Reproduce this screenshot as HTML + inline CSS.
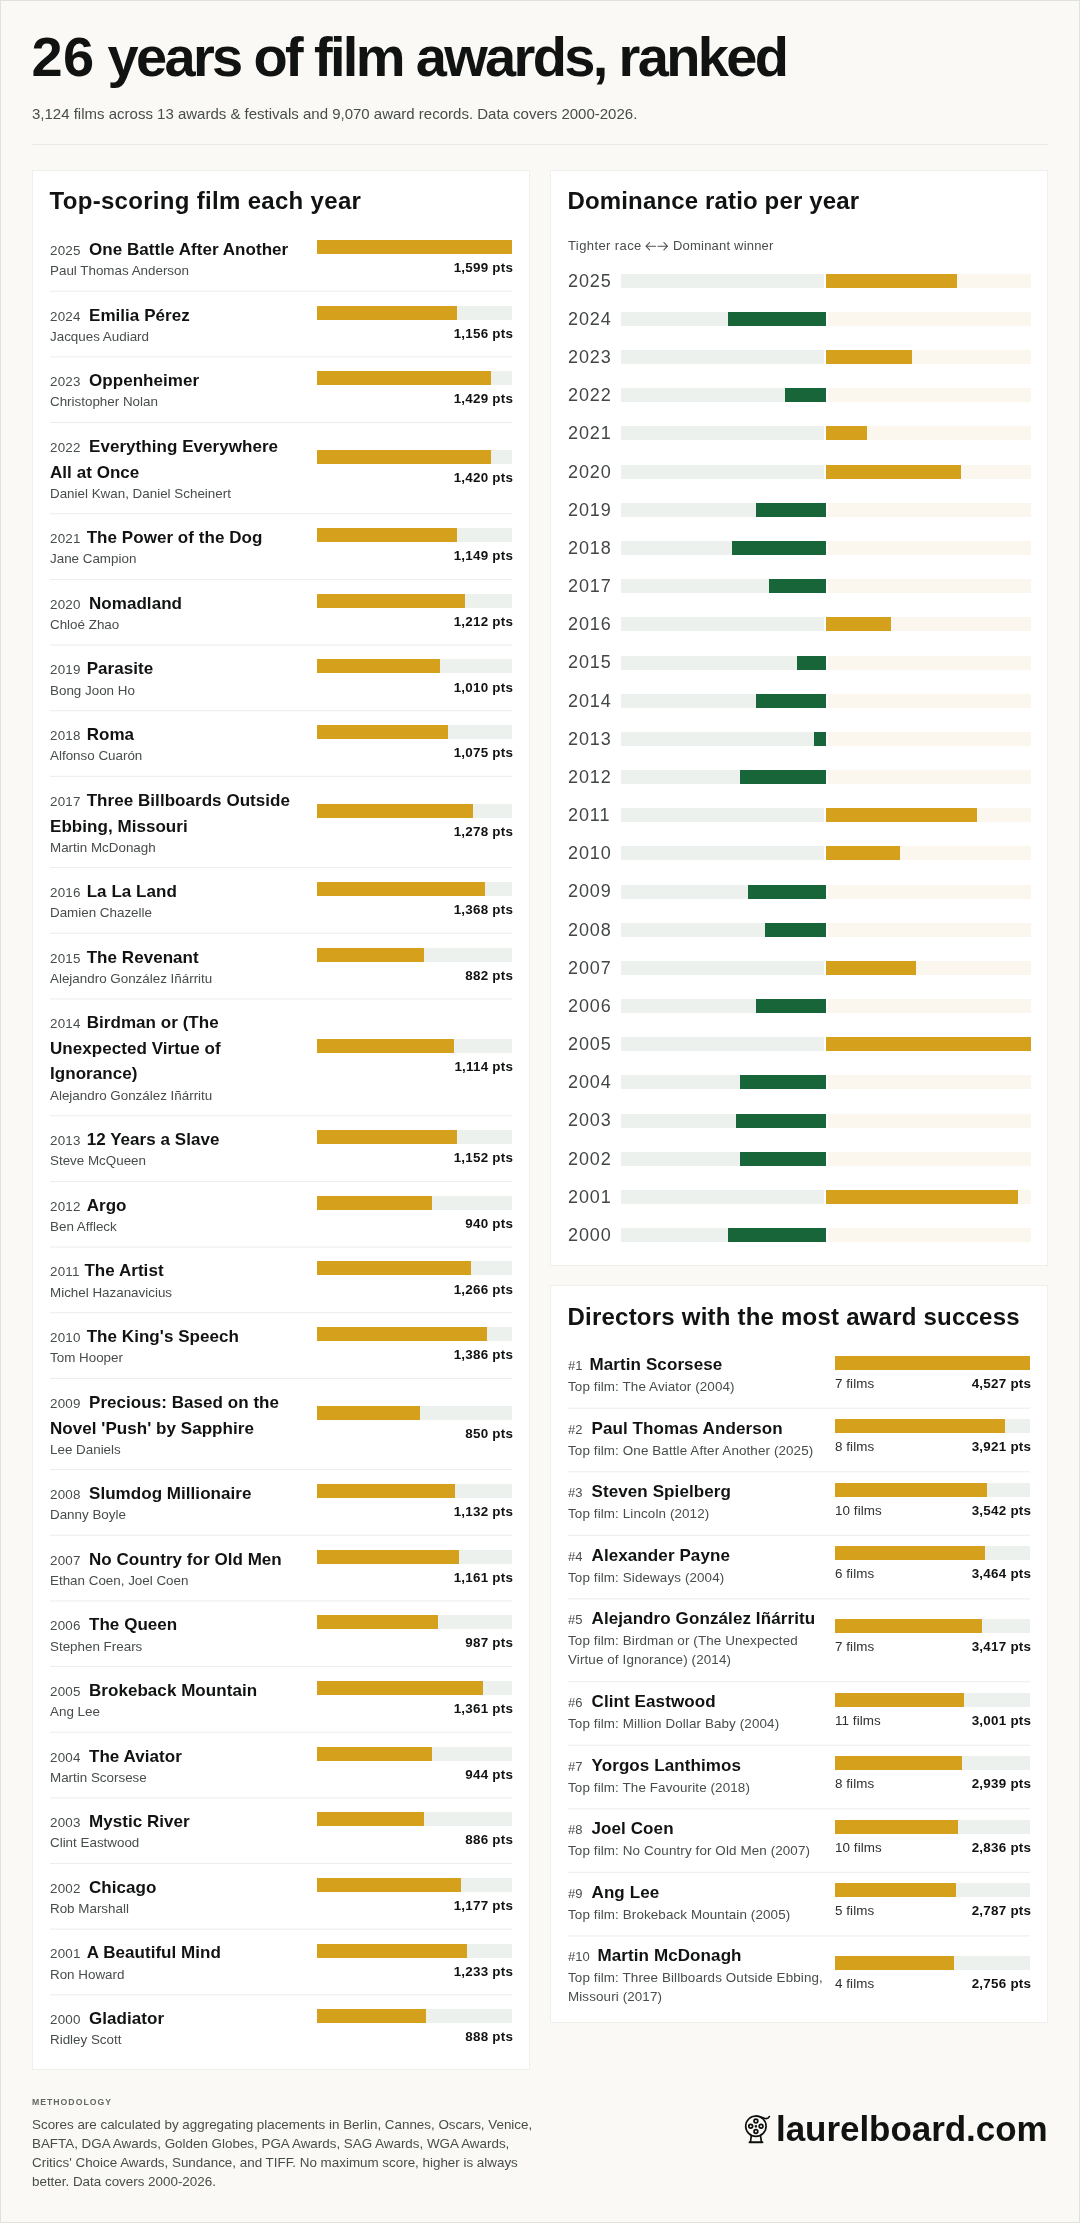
<!DOCTYPE html>
<html><head><meta charset="utf-8"><title>26 years of film awards, ranked</title>
<style>
*{margin:0;padding:0;box-sizing:border-box}
html,body{width:1080px;height:2223px;overflow:hidden}
body{background:#faf9f5;position:relative;font-family:"Liberation Sans",sans-serif;color:#101311}
.frame{position:absolute;left:0;top:0;width:1080px;height:2223px;border:1px solid #e1e2dd}
.t{position:absolute;white-space:nowrap}
#wrap{position:absolute;left:0;top:0;width:1080px;height:2223px;will-change:transform}
.r{position:absolute}
.card{position:absolute;background:#ffffff;border:1px solid #efefec;box-sizing:content-box}
.yr{display:inline-block;line-height:10px;font-size:13.4px;font-weight:400;color:#474d4a;letter-spacing:0.2px}
.rk{display:inline-block;line-height:10px;font-size:13px;font-weight:400;color:#474d4a;letter-spacing:0}
.ic{position:absolute}
</style></head>
<body>
<div id="wrap">
<div class="frame"></div>
<div class="t" style="left:31.50px;top:23.00px;font-size:56px;line-height:67.2px;font-weight:700;color:#101311;letter-spacing:-2.66px;"><span style="letter-spacing:0.4px">26</span> years of film awards, ranked</div>
<div class="t" style="left:32.00px;top:105.00px;font-size:15px;line-height:18.0px;color:#474d4a;">3,124 films across 13 awards &amp; festivals and 9,070 award records. Data covers 2000-2026.</div>
<div class="r" style="left:32.00px;top:144.00px;width:1016.00px;height:1.00px;background:#e9e9e5;"></div>
<div class="card" style="left:32px;top:170px;width:496px;height:1898px"></div>
<div class="card" style="left:550px;top:170px;width:496px;height:1094px"></div>
<div class="card" style="left:550px;top:1285px;width:496px;height:736px"></div>
<div class="t" style="left:49.50px;top:187.00px;font-size:24px;line-height:28.799999999999997px;font-weight:700;color:#101311;letter-spacing:0.31px;">Top-scoring film each year</div>
<div class="t ft" style="left:50.00px;top:237.00px;font-size:17px;line-height:25.6px;font-weight:700;color:#101311;letter-spacing:0.05px;"><span class="yr" style="width:39.0px">2025</span>One Battle After Another</div>
<div class="t" style="left:50.00px;top:263.00px;font-size:13.4px;line-height:16.08px;color:#474d4a;">Paul Thomas Anderson</div>
<div class="r" style="left:316.70px;top:239.95px;width:195.50px;height:14.00px;background:#edf1ee;"></div>
<div class="r" style="left:316.70px;top:239.95px;width:195.50px;height:14.00px;background:#d5a11d;"></div>
<div class="t" style="right:566.80px;text-align:right;top:260.00px;font-size:13.4px;line-height:16.08px;font-weight:700;color:#101311;letter-spacing:0.25px;width:300px;">1,599 pts</div>
<div class="r" style="left:50.00px;top:290.00px;width:462.00px;height:1.00px;background:#f9f9f9;"></div>
<div class="r" style="left:50.00px;top:291.00px;width:462.00px;height:1.00px;background:#f2f2f0;"></div>
<div class="t ft" style="left:50.00px;top:303.00px;font-size:17px;line-height:25.6px;font-weight:700;color:#101311;letter-spacing:0.05px;"><span class="yr" style="width:39.0px">2024</span>Emilia Pérez</div>
<div class="t" style="left:50.00px;top:329.00px;font-size:13.4px;line-height:16.08px;color:#474d4a;">Jacques Audiard</div>
<div class="r" style="left:316.70px;top:305.60px;width:195.50px;height:14.00px;background:#edf1ee;"></div>
<div class="r" style="left:316.70px;top:305.60px;width:140.76px;height:14.00px;background:#d5a11d;"></div>
<div class="t" style="right:566.80px;text-align:right;top:326.00px;font-size:13.4px;line-height:16.08px;font-weight:700;color:#101311;letter-spacing:0.25px;width:300px;">1,156 pts</div>
<div class="r" style="left:50.00px;top:356.00px;width:462.00px;height:1.00px;background:#f3f3f1;"></div>
<div class="r" style="left:50.00px;top:357.00px;width:462.00px;height:1.00px;background:#f8f8f8;"></div>
<div class="t ft" style="left:50.00px;top:368.00px;font-size:17px;line-height:25.6px;font-weight:700;color:#101311;letter-spacing:0.05px;"><span class="yr" style="width:39.0px">2023</span>Oppenheimer</div>
<div class="t" style="left:50.00px;top:394.00px;font-size:13.4px;line-height:16.08px;color:#474d4a;">Christopher Nolan</div>
<div class="r" style="left:316.70px;top:371.25px;width:195.50px;height:14.00px;background:#edf1ee;"></div>
<div class="r" style="left:316.70px;top:371.25px;width:174.00px;height:14.00px;background:#d5a11d;"></div>
<div class="t" style="right:566.80px;text-align:right;top:391.00px;font-size:13.4px;line-height:16.08px;font-weight:700;color:#101311;letter-spacing:0.25px;width:300px;">1,429 pts</div>
<div class="r" style="left:50.00px;top:422.00px;width:462.00px;height:1.00px;background:#ececea;"></div>
<div class="t ft" style="left:50.00px;top:434.00px;font-size:17px;line-height:25.6px;font-weight:700;color:#101311;letter-spacing:0.05px;"><span class="yr" style="width:39.0px">2022</span>Everything Everywhere<br>All at Once</div>
<div class="t" style="left:50.00px;top:486.00px;font-size:13.4px;line-height:16.08px;color:#474d4a;">Daniel Kwan, Daniel Scheinert</div>
<div class="r" style="left:316.70px;top:449.70px;width:195.50px;height:14.00px;background:#edf1ee;"></div>
<div class="r" style="left:316.70px;top:449.70px;width:174.00px;height:14.00px;background:#d5a11d;"></div>
<div class="t" style="right:566.80px;text-align:right;top:470.00px;font-size:13.4px;line-height:16.08px;font-weight:700;color:#101311;letter-spacing:0.25px;width:300px;">1,420 pts</div>
<div class="r" style="left:50.00px;top:513.00px;width:462.00px;height:1.00px;background:#f1f1ef;"></div>
<div class="r" style="left:50.00px;top:514.00px;width:462.00px;height:1.00px;background:#fafafa;"></div>
<div class="t ft" style="left:50.00px;top:525.00px;font-size:17px;line-height:25.6px;font-weight:700;color:#101311;letter-spacing:0.05px;"><span class="yr" style="width:36.7px">2021</span>The Power of the Dog</div>
<div class="t" style="left:50.00px;top:551.00px;font-size:13.4px;line-height:16.08px;color:#474d4a;">Jane Campion</div>
<div class="r" style="left:316.70px;top:528.15px;width:195.50px;height:14.00px;background:#edf1ee;"></div>
<div class="r" style="left:316.70px;top:528.15px;width:140.76px;height:14.00px;background:#d5a11d;"></div>
<div class="t" style="right:566.80px;text-align:right;top:548.00px;font-size:13.4px;line-height:16.08px;font-weight:700;color:#101311;letter-spacing:0.25px;width:300px;">1,149 pts</div>
<div class="r" style="left:50.00px;top:579.00px;width:462.00px;height:1.00px;background:#eeeeec;"></div>
<div class="t ft" style="left:50.00px;top:591.00px;font-size:17px;line-height:25.6px;font-weight:700;color:#101311;letter-spacing:0.05px;"><span class="yr" style="width:39.0px">2020</span>Nomadland</div>
<div class="t" style="left:50.00px;top:617.00px;font-size:13.4px;line-height:16.08px;color:#474d4a;">Chloé Zhao</div>
<div class="r" style="left:316.70px;top:593.80px;width:195.50px;height:14.00px;background:#edf1ee;"></div>
<div class="r" style="left:316.70px;top:593.80px;width:148.58px;height:14.00px;background:#d5a11d;"></div>
<div class="t" style="right:566.80px;text-align:right;top:614.00px;font-size:13.4px;line-height:16.08px;font-weight:700;color:#101311;letter-spacing:0.25px;width:300px;">1,212 pts</div>
<div class="r" style="left:50.00px;top:644.00px;width:462.00px;height:1.00px;background:#f6f6f6;"></div>
<div class="r" style="left:50.00px;top:645.00px;width:462.00px;height:1.00px;background:#f5f5f3;"></div>
<div class="t ft" style="left:50.00px;top:656.00px;font-size:17px;line-height:25.6px;font-weight:700;color:#101311;letter-spacing:0.05px;"><span class="yr" style="width:36.7px">2019</span>Parasite</div>
<div class="t" style="left:50.00px;top:683.00px;font-size:13.4px;line-height:16.08px;color:#474d4a;">Bong Joon Ho</div>
<div class="r" style="left:316.70px;top:659.45px;width:195.50px;height:14.00px;background:#edf1ee;"></div>
<div class="r" style="left:316.70px;top:659.45px;width:123.17px;height:14.00px;background:#d5a11d;"></div>
<div class="t" style="right:566.80px;text-align:right;top:680.00px;font-size:13.4px;line-height:16.08px;font-weight:700;color:#101311;letter-spacing:0.25px;width:300px;">1,010 pts</div>
<div class="r" style="left:50.00px;top:710.00px;width:462.00px;height:1.00px;background:#f0f0ee;"></div>
<div class="r" style="left:50.00px;top:711.00px;width:462.00px;height:1.00px;background:#fbfbfb;"></div>
<div class="t ft" style="left:50.00px;top:722.00px;font-size:17px;line-height:25.6px;font-weight:700;color:#101311;letter-spacing:0.05px;"><span class="yr" style="width:36.7px">2018</span>Roma</div>
<div class="t" style="left:50.00px;top:748.00px;font-size:13.4px;line-height:16.08px;color:#474d4a;">Alfonso Cuarón</div>
<div class="r" style="left:316.70px;top:725.10px;width:195.50px;height:14.00px;background:#edf1ee;"></div>
<div class="r" style="left:316.70px;top:725.10px;width:130.99px;height:14.00px;background:#d5a11d;"></div>
<div class="t" style="right:566.80px;text-align:right;top:745.00px;font-size:13.4px;line-height:16.08px;font-weight:700;color:#101311;letter-spacing:0.25px;width:300px;">1,075 pts</div>
<div class="r" style="left:50.00px;top:775.00px;width:462.00px;height:1.00px;background:#fcfcfc;"></div>
<div class="r" style="left:50.00px;top:776.00px;width:462.00px;height:1.00px;background:#efefed;"></div>
<div class="t ft" style="left:50.00px;top:788.00px;font-size:17px;line-height:25.6px;font-weight:700;color:#101311;letter-spacing:0.05px;"><span class="yr" style="width:36.7px">2017</span>Three Billboards Outside<br>Ebbing, Missouri</div>
<div class="t" style="left:50.00px;top:840.00px;font-size:13.4px;line-height:16.08px;color:#474d4a;">Martin McDonagh</div>
<div class="r" style="left:316.70px;top:803.55px;width:195.50px;height:14.00px;background:#edf1ee;"></div>
<div class="r" style="left:316.70px;top:803.55px;width:156.40px;height:14.00px;background:#d5a11d;"></div>
<div class="t" style="right:566.80px;text-align:right;top:824.00px;font-size:13.4px;line-height:16.08px;font-weight:700;color:#101311;letter-spacing:0.25px;width:300px;">1,278 pts</div>
<div class="r" style="left:50.00px;top:867.00px;width:462.00px;height:1.00px;background:#eeeeec;"></div>
<div class="t ft" style="left:50.00px;top:879.00px;font-size:17px;line-height:25.6px;font-weight:700;color:#101311;letter-spacing:0.05px;"><span class="yr" style="width:36.7px">2016</span>La La Land</div>
<div class="t" style="left:50.00px;top:905.00px;font-size:13.4px;line-height:16.08px;color:#474d4a;">Damien Chazelle</div>
<div class="r" style="left:316.70px;top:882.00px;width:195.50px;height:14.00px;background:#edf1ee;"></div>
<div class="r" style="left:316.70px;top:882.00px;width:168.13px;height:14.00px;background:#d5a11d;"></div>
<div class="t" style="right:566.80px;text-align:right;top:902.00px;font-size:13.4px;line-height:16.08px;font-weight:700;color:#101311;letter-spacing:0.25px;width:300px;">1,368 pts</div>
<div class="r" style="left:50.00px;top:932.00px;width:462.00px;height:1.00px;background:#fafafa;"></div>
<div class="r" style="left:50.00px;top:933.00px;width:462.00px;height:1.00px;background:#f1f1ef;"></div>
<div class="t ft" style="left:50.00px;top:945.00px;font-size:17px;line-height:25.6px;font-weight:700;color:#101311;letter-spacing:0.05px;"><span class="yr" style="width:36.7px">2015</span>The Revenant</div>
<div class="t" style="left:50.00px;top:971.00px;font-size:13.4px;line-height:16.08px;color:#474d4a;">Alejandro González Iñárritu</div>
<div class="r" style="left:316.70px;top:947.65px;width:195.50px;height:14.00px;background:#edf1ee;"></div>
<div class="r" style="left:316.70px;top:947.65px;width:107.53px;height:14.00px;background:#d5a11d;"></div>
<div class="t" style="right:566.80px;text-align:right;top:968.00px;font-size:13.4px;line-height:16.08px;font-weight:700;color:#101311;letter-spacing:0.25px;width:300px;">882 pts</div>
<div class="r" style="left:50.00px;top:998.00px;width:462.00px;height:1.00px;background:#f4f4f2;"></div>
<div class="r" style="left:50.00px;top:999.00px;width:462.00px;height:1.00px;background:#f7f7f7;"></div>
<div class="t ft" style="left:50.00px;top:1010.00px;font-size:17px;line-height:25.6px;font-weight:700;color:#101311;letter-spacing:0.05px;"><span class="yr" style="width:36.7px">2014</span>Birdman or (The<br>Unexpected Virtue of<br>Ignorance)</div>
<div class="t" style="left:50.00px;top:1088.00px;font-size:13.4px;line-height:16.08px;color:#474d4a;">Alejandro González Iñárritu</div>
<div class="r" style="left:316.70px;top:1038.90px;width:195.50px;height:14.00px;background:#edf1ee;"></div>
<div class="r" style="left:316.70px;top:1038.90px;width:136.85px;height:14.00px;background:#d5a11d;"></div>
<div class="t" style="right:566.80px;text-align:right;top:1059.00px;font-size:13.4px;line-height:16.08px;font-weight:700;color:#101311;letter-spacing:0.25px;width:300px;">1,114 pts</div>
<div class="r" style="left:50.00px;top:1115.00px;width:462.00px;height:1.00px;background:#f1f1ef;"></div>
<div class="r" style="left:50.00px;top:1116.00px;width:462.00px;height:1.00px;background:#fafafa;"></div>
<div class="t ft" style="left:50.00px;top:1127.00px;font-size:17px;line-height:25.6px;font-weight:700;color:#101311;letter-spacing:0.05px;"><span class="yr" style="width:36.7px">2013</span>12 Years a Slave</div>
<div class="t" style="left:50.00px;top:1153.00px;font-size:13.4px;line-height:16.08px;color:#474d4a;">Steve McQueen</div>
<div class="r" style="left:316.70px;top:1130.15px;width:195.50px;height:14.00px;background:#edf1ee;"></div>
<div class="r" style="left:316.70px;top:1130.15px;width:140.76px;height:14.00px;background:#d5a11d;"></div>
<div class="t" style="right:566.80px;text-align:right;top:1150.00px;font-size:13.4px;line-height:16.08px;font-weight:700;color:#101311;letter-spacing:0.25px;width:300px;">1,152 pts</div>
<div class="r" style="left:50.00px;top:1181.00px;width:462.00px;height:1.00px;background:#eeeeec;"></div>
<div class="t ft" style="left:50.00px;top:1193.00px;font-size:17px;line-height:25.6px;font-weight:700;color:#101311;letter-spacing:0.05px;"><span class="yr" style="width:36.7px">2012</span>Argo</div>
<div class="t" style="left:50.00px;top:1219.00px;font-size:13.4px;line-height:16.08px;color:#474d4a;">Ben Affleck</div>
<div class="r" style="left:316.70px;top:1195.80px;width:195.50px;height:14.00px;background:#edf1ee;"></div>
<div class="r" style="left:316.70px;top:1195.80px;width:115.34px;height:14.00px;background:#d5a11d;"></div>
<div class="t" style="right:566.80px;text-align:right;top:1216.00px;font-size:13.4px;line-height:16.08px;font-weight:700;color:#101311;letter-spacing:0.25px;width:300px;">940 pts</div>
<div class="r" style="left:50.00px;top:1246.00px;width:462.00px;height:1.00px;background:#f6f6f6;"></div>
<div class="r" style="left:50.00px;top:1247.00px;width:462.00px;height:1.00px;background:#f5f5f3;"></div>
<div class="t ft" style="left:50.00px;top:1258.00px;font-size:17px;line-height:25.6px;font-weight:700;color:#101311;letter-spacing:0.05px;"><span class="yr" style="width:34.4px">2011</span>The Artist</div>
<div class="t" style="left:50.00px;top:1285.00px;font-size:13.4px;line-height:16.08px;color:#474d4a;">Michel Hazanavicius</div>
<div class="r" style="left:316.70px;top:1261.45px;width:195.50px;height:14.00px;background:#edf1ee;"></div>
<div class="r" style="left:316.70px;top:1261.45px;width:154.44px;height:14.00px;background:#d5a11d;"></div>
<div class="t" style="right:566.80px;text-align:right;top:1282.00px;font-size:13.4px;line-height:16.08px;font-weight:700;color:#101311;letter-spacing:0.25px;width:300px;">1,266 pts</div>
<div class="r" style="left:50.00px;top:1312.00px;width:462.00px;height:1.00px;background:#f0f0ee;"></div>
<div class="r" style="left:50.00px;top:1313.00px;width:462.00px;height:1.00px;background:#fbfbfb;"></div>
<div class="t ft" style="left:50.00px;top:1324.00px;font-size:17px;line-height:25.6px;font-weight:700;color:#101311;letter-spacing:0.05px;"><span class="yr" style="width:36.7px">2010</span>The King's Speech</div>
<div class="t" style="left:50.00px;top:1350.00px;font-size:13.4px;line-height:16.08px;color:#474d4a;">Tom Hooper</div>
<div class="r" style="left:316.70px;top:1327.10px;width:195.50px;height:14.00px;background:#edf1ee;"></div>
<div class="r" style="left:316.70px;top:1327.10px;width:170.09px;height:14.00px;background:#d5a11d;"></div>
<div class="t" style="right:566.80px;text-align:right;top:1347.00px;font-size:13.4px;line-height:16.08px;font-weight:700;color:#101311;letter-spacing:0.25px;width:300px;">1,386 pts</div>
<div class="r" style="left:50.00px;top:1377.00px;width:462.00px;height:1.00px;background:#fcfcfc;"></div>
<div class="r" style="left:50.00px;top:1378.00px;width:462.00px;height:1.00px;background:#efefed;"></div>
<div class="t ft" style="left:50.00px;top:1390.00px;font-size:17px;line-height:25.6px;font-weight:700;color:#101311;letter-spacing:0.05px;"><span class="yr" style="width:39.0px">2009</span>Precious: Based on the<br>Novel 'Push' by Sapphire</div>
<div class="t" style="left:50.00px;top:1442.00px;font-size:13.4px;line-height:16.08px;color:#474d4a;">Lee Daniels</div>
<div class="r" style="left:316.70px;top:1405.55px;width:195.50px;height:14.00px;background:#edf1ee;"></div>
<div class="r" style="left:316.70px;top:1405.55px;width:103.61px;height:14.00px;background:#d5a11d;"></div>
<div class="t" style="right:566.80px;text-align:right;top:1426.00px;font-size:13.4px;line-height:16.08px;font-weight:700;color:#101311;letter-spacing:0.25px;width:300px;">850 pts</div>
<div class="r" style="left:50.00px;top:1469.00px;width:462.00px;height:1.00px;background:#eeeeec;"></div>
<div class="t ft" style="left:50.00px;top:1481.00px;font-size:17px;line-height:25.6px;font-weight:700;color:#101311;letter-spacing:0.05px;"><span class="yr" style="width:39.0px">2008</span>Slumdog Millionaire</div>
<div class="t" style="left:50.00px;top:1507.00px;font-size:13.4px;line-height:16.08px;color:#474d4a;">Danny Boyle</div>
<div class="r" style="left:316.70px;top:1484.00px;width:195.50px;height:14.00px;background:#edf1ee;"></div>
<div class="r" style="left:316.70px;top:1484.00px;width:138.81px;height:14.00px;background:#d5a11d;"></div>
<div class="t" style="right:566.80px;text-align:right;top:1504.00px;font-size:13.4px;line-height:16.08px;font-weight:700;color:#101311;letter-spacing:0.25px;width:300px;">1,132 pts</div>
<div class="r" style="left:50.00px;top:1534.00px;width:462.00px;height:1.00px;background:#fafafa;"></div>
<div class="r" style="left:50.00px;top:1535.00px;width:462.00px;height:1.00px;background:#f1f1ef;"></div>
<div class="t ft" style="left:50.00px;top:1547.00px;font-size:17px;line-height:25.6px;font-weight:700;color:#101311;letter-spacing:0.05px;"><span class="yr" style="width:39.0px">2007</span>No Country for Old Men</div>
<div class="t" style="left:50.00px;top:1573.00px;font-size:13.4px;line-height:16.08px;color:#474d4a;">Ethan Coen, Joel Coen</div>
<div class="r" style="left:316.70px;top:1549.65px;width:195.50px;height:14.00px;background:#edf1ee;"></div>
<div class="r" style="left:316.70px;top:1549.65px;width:142.72px;height:14.00px;background:#d5a11d;"></div>
<div class="t" style="right:566.80px;text-align:right;top:1570.00px;font-size:13.4px;line-height:16.08px;font-weight:700;color:#101311;letter-spacing:0.25px;width:300px;">1,161 pts</div>
<div class="r" style="left:50.00px;top:1600.00px;width:462.00px;height:1.00px;background:#f4f4f2;"></div>
<div class="r" style="left:50.00px;top:1601.00px;width:462.00px;height:1.00px;background:#f7f7f7;"></div>
<div class="t ft" style="left:50.00px;top:1612.00px;font-size:17px;line-height:25.6px;font-weight:700;color:#101311;letter-spacing:0.05px;"><span class="yr" style="width:39.0px">2006</span>The Queen</div>
<div class="t" style="left:50.00px;top:1639.00px;font-size:13.4px;line-height:16.08px;color:#474d4a;">Stephen Frears</div>
<div class="r" style="left:316.70px;top:1615.30px;width:195.50px;height:14.00px;background:#edf1ee;"></div>
<div class="r" style="left:316.70px;top:1615.30px;width:121.21px;height:14.00px;background:#d5a11d;"></div>
<div class="t" style="right:566.80px;text-align:right;top:1635.00px;font-size:13.4px;line-height:16.08px;font-weight:700;color:#101311;letter-spacing:0.25px;width:300px;">987 pts</div>
<div class="r" style="left:50.00px;top:1666.00px;width:462.00px;height:1.00px;background:#ededeb;"></div>
<div class="t ft" style="left:50.00px;top:1678.00px;font-size:17px;line-height:25.6px;font-weight:700;color:#101311;letter-spacing:0.05px;"><span class="yr" style="width:39.0px">2005</span>Brokeback Mountain</div>
<div class="t" style="left:50.00px;top:1704.00px;font-size:13.4px;line-height:16.08px;color:#474d4a;">Ang Lee</div>
<div class="r" style="left:316.70px;top:1680.95px;width:195.50px;height:14.00px;background:#edf1ee;"></div>
<div class="r" style="left:316.70px;top:1680.95px;width:166.18px;height:14.00px;background:#d5a11d;"></div>
<div class="t" style="right:566.80px;text-align:right;top:1701.00px;font-size:13.4px;line-height:16.08px;font-weight:700;color:#101311;letter-spacing:0.25px;width:300px;">1,361 pts</div>
<div class="r" style="left:50.00px;top:1731.00px;width:462.00px;height:1.00px;background:#f9f9f9;"></div>
<div class="r" style="left:50.00px;top:1732.00px;width:462.00px;height:1.00px;background:#f2f2f0;"></div>
<div class="t ft" style="left:50.00px;top:1744.00px;font-size:17px;line-height:25.6px;font-weight:700;color:#101311;letter-spacing:0.05px;"><span class="yr" style="width:39.0px">2004</span>The Aviator</div>
<div class="t" style="left:50.00px;top:1770.00px;font-size:13.4px;line-height:16.08px;color:#474d4a;">Martin Scorsese</div>
<div class="r" style="left:316.70px;top:1746.60px;width:195.50px;height:14.00px;background:#edf1ee;"></div>
<div class="r" style="left:316.70px;top:1746.60px;width:115.34px;height:14.00px;background:#d5a11d;"></div>
<div class="t" style="right:566.80px;text-align:right;top:1767.00px;font-size:13.4px;line-height:16.08px;font-weight:700;color:#101311;letter-spacing:0.25px;width:300px;">944 pts</div>
<div class="r" style="left:50.00px;top:1797.00px;width:462.00px;height:1.00px;background:#f3f3f1;"></div>
<div class="r" style="left:50.00px;top:1798.00px;width:462.00px;height:1.00px;background:#f8f8f8;"></div>
<div class="t ft" style="left:50.00px;top:1809.00px;font-size:17px;line-height:25.6px;font-weight:700;color:#101311;letter-spacing:0.05px;"><span class="yr" style="width:39.0px">2003</span>Mystic River</div>
<div class="t" style="left:50.00px;top:1835.00px;font-size:13.4px;line-height:16.08px;color:#474d4a;">Clint Eastwood</div>
<div class="r" style="left:316.70px;top:1812.25px;width:195.50px;height:14.00px;background:#edf1ee;"></div>
<div class="r" style="left:316.70px;top:1812.25px;width:107.53px;height:14.00px;background:#d5a11d;"></div>
<div class="t" style="right:566.80px;text-align:right;top:1832.00px;font-size:13.4px;line-height:16.08px;font-weight:700;color:#101311;letter-spacing:0.25px;width:300px;">886 pts</div>
<div class="r" style="left:50.00px;top:1863.00px;width:462.00px;height:1.00px;background:#ececea;"></div>
<div class="t ft" style="left:50.00px;top:1875.00px;font-size:17px;line-height:25.6px;font-weight:700;color:#101311;letter-spacing:0.05px;"><span class="yr" style="width:39.0px">2002</span>Chicago</div>
<div class="t" style="left:50.00px;top:1901.00px;font-size:13.4px;line-height:16.08px;color:#474d4a;">Rob Marshall</div>
<div class="r" style="left:316.70px;top:1877.90px;width:195.50px;height:14.00px;background:#edf1ee;"></div>
<div class="r" style="left:316.70px;top:1877.90px;width:144.67px;height:14.00px;background:#d5a11d;"></div>
<div class="t" style="right:566.80px;text-align:right;top:1898.00px;font-size:13.4px;line-height:16.08px;font-weight:700;color:#101311;letter-spacing:0.25px;width:300px;">1,177 pts</div>
<div class="r" style="left:50.00px;top:1928.00px;width:462.00px;height:1.00px;background:#f8f8f8;"></div>
<div class="r" style="left:50.00px;top:1929.00px;width:462.00px;height:1.00px;background:#f3f3f1;"></div>
<div class="t ft" style="left:50.00px;top:1940.00px;font-size:17px;line-height:25.6px;font-weight:700;color:#101311;letter-spacing:0.05px;"><span class="yr" style="width:36.7px">2001</span>A Beautiful Mind</div>
<div class="t" style="left:50.00px;top:1967.00px;font-size:13.4px;line-height:16.08px;color:#474d4a;">Ron Howard</div>
<div class="r" style="left:316.70px;top:1943.55px;width:195.50px;height:14.00px;background:#edf1ee;"></div>
<div class="r" style="left:316.70px;top:1943.55px;width:150.53px;height:14.00px;background:#d5a11d;"></div>
<div class="t" style="right:566.80px;text-align:right;top:1964.00px;font-size:13.4px;line-height:16.08px;font-weight:700;color:#101311;letter-spacing:0.25px;width:300px;">1,233 pts</div>
<div class="r" style="left:50.00px;top:1994.00px;width:462.00px;height:1.00px;background:#f2f2f0;"></div>
<div class="r" style="left:50.00px;top:1995.00px;width:462.00px;height:1.00px;background:#f9f9f9;"></div>
<div class="t ft" style="left:50.00px;top:2006.00px;font-size:17px;line-height:25.6px;font-weight:700;color:#101311;letter-spacing:0.05px;"><span class="yr" style="width:39.0px">2000</span>Gladiator</div>
<div class="t" style="left:50.00px;top:2032.00px;font-size:13.4px;line-height:16.08px;color:#474d4a;">Ridley Scott</div>
<div class="r" style="left:316.70px;top:2009.20px;width:195.50px;height:14.00px;background:#edf1ee;"></div>
<div class="r" style="left:316.70px;top:2009.20px;width:109.48px;height:14.00px;background:#d5a11d;"></div>
<div class="t" style="right:566.80px;text-align:right;top:2029.00px;font-size:13.4px;line-height:16.08px;font-weight:700;color:#101311;letter-spacing:0.25px;width:300px;">888 pts</div>
<div class="t" style="left:567.50px;top:187.00px;font-size:24px;line-height:28.799999999999997px;font-weight:700;color:#101311;letter-spacing:0.15px;">Dominance ratio per year</div>
<div class="t" style="left:568.00px;top:238.00px;font-size:13px;line-height:15.6px;color:#474d4a;letter-spacing:0.4px;">Tighter race</div>
<div class="t" style="left:673.00px;top:238.00px;font-size:13px;line-height:15.6px;color:#474d4a;letter-spacing:0.2px;">Dominant winner</div>
<svg class="ic" style="left:645px;top:240px" width="24" height="12" viewBox="0 0 24 12" fill="none" stroke="#4e5350" stroke-width="1.1" stroke-linecap="round" stroke-linejoin="round"><path d="M1 6.2 H10.5 M4.6 2.6 L1 6.2 L4.6 9.8 M13 6.2 H22.5 M18.9 2.6 L22.5 6.2 L18.9 9.8"/></svg>
<div class="t" style="left:568.00px;top:271.00px;font-size:18px;line-height:21.599999999999998px;color:#424744;letter-spacing:0.9px;">2025</div>
<div class="r" style="left:621.10px;top:273.80px;width:202.90px;height:14.00px;background:#edf1ee;"></div>
<div class="r" style="left:828.00px;top:273.80px;width:202.50px;height:14.00px;background:#fbf7ef;"></div>
<div class="r" style="left:826.00px;top:273.80px;width:130.86px;height:14.00px;background:#d5a11d;"></div>
<div class="t" style="left:568.00px;top:309.00px;font-size:18px;line-height:21.599999999999998px;color:#424744;letter-spacing:0.9px;">2024</div>
<div class="r" style="left:621.10px;top:311.97px;width:202.90px;height:14.00px;background:#edf1ee;"></div>
<div class="r" style="left:828.00px;top:311.97px;width:202.50px;height:14.00px;background:#fbf7ef;"></div>
<div class="r" style="left:727.77px;top:311.97px;width:98.23px;height:14.00px;background:#19653a;"></div>
<div class="t" style="left:568.00px;top:347.00px;font-size:18px;line-height:21.599999999999998px;color:#424744;letter-spacing:0.9px;">2023</div>
<div class="r" style="left:621.10px;top:350.14px;width:202.90px;height:14.00px;background:#edf1ee;"></div>
<div class="r" style="left:828.00px;top:350.14px;width:202.50px;height:14.00px;background:#fbf7ef;"></div>
<div class="r" style="left:826.00px;top:350.14px;width:85.86px;height:14.00px;background:#d5a11d;"></div>
<div class="t" style="left:568.00px;top:385.00px;font-size:18px;line-height:21.599999999999998px;color:#424744;letter-spacing:0.9px;">2022</div>
<div class="r" style="left:621.10px;top:388.31px;width:202.90px;height:14.00px;background:#edf1ee;"></div>
<div class="r" style="left:828.00px;top:388.31px;width:202.50px;height:14.00px;background:#fbf7ef;"></div>
<div class="r" style="left:785.04px;top:388.31px;width:40.96px;height:14.00px;background:#19653a;"></div>
<div class="t" style="left:568.00px;top:423.00px;font-size:18px;line-height:21.599999999999998px;color:#424744;letter-spacing:0.9px;">2021</div>
<div class="r" style="left:621.10px;top:426.48px;width:202.90px;height:14.00px;background:#edf1ee;"></div>
<div class="r" style="left:828.00px;top:426.48px;width:202.50px;height:14.00px;background:#fbf7ef;"></div>
<div class="r" style="left:826.00px;top:426.48px;width:40.86px;height:14.00px;background:#d5a11d;"></div>
<div class="t" style="left:568.00px;top:462.00px;font-size:18px;line-height:21.599999999999998px;color:#424744;letter-spacing:0.9px;">2020</div>
<div class="r" style="left:621.10px;top:464.65px;width:202.90px;height:14.00px;background:#edf1ee;"></div>
<div class="r" style="left:828.00px;top:464.65px;width:202.50px;height:14.00px;background:#fbf7ef;"></div>
<div class="r" style="left:826.00px;top:464.65px;width:134.95px;height:14.00px;background:#d5a11d;"></div>
<div class="t" style="left:568.00px;top:500.00px;font-size:18px;line-height:21.599999999999998px;color:#424744;letter-spacing:0.9px;">2019</div>
<div class="r" style="left:621.10px;top:502.82px;width:202.90px;height:14.00px;background:#edf1ee;"></div>
<div class="r" style="left:828.00px;top:502.82px;width:202.50px;height:14.00px;background:#fbf7ef;"></div>
<div class="r" style="left:756.40px;top:502.82px;width:69.60px;height:14.00px;background:#19653a;"></div>
<div class="t" style="left:568.00px;top:538.00px;font-size:18px;line-height:21.599999999999998px;color:#424744;letter-spacing:0.9px;">2018</div>
<div class="r" style="left:621.10px;top:540.99px;width:202.90px;height:14.00px;background:#edf1ee;"></div>
<div class="r" style="left:828.00px;top:540.99px;width:202.50px;height:14.00px;background:#fbf7ef;"></div>
<div class="r" style="left:731.86px;top:540.99px;width:94.14px;height:14.00px;background:#19653a;"></div>
<div class="t" style="left:568.00px;top:576.00px;font-size:18px;line-height:21.599999999999998px;color:#424744;letter-spacing:0.9px;">2017</div>
<div class="r" style="left:621.10px;top:579.16px;width:202.90px;height:14.00px;background:#edf1ee;"></div>
<div class="r" style="left:828.00px;top:579.16px;width:202.50px;height:14.00px;background:#fbf7ef;"></div>
<div class="r" style="left:768.68px;top:579.16px;width:57.32px;height:14.00px;background:#19653a;"></div>
<div class="t" style="left:568.00px;top:614.00px;font-size:18px;line-height:21.599999999999998px;color:#424744;letter-spacing:0.9px;">2016</div>
<div class="r" style="left:621.10px;top:617.33px;width:202.90px;height:14.00px;background:#edf1ee;"></div>
<div class="r" style="left:828.00px;top:617.33px;width:202.50px;height:14.00px;background:#fbf7ef;"></div>
<div class="r" style="left:826.00px;top:617.33px;width:65.41px;height:14.00px;background:#d5a11d;"></div>
<div class="t" style="left:568.00px;top:652.00px;font-size:18px;line-height:21.599999999999998px;color:#424744;letter-spacing:0.9px;">2015</div>
<div class="r" style="left:621.10px;top:655.50px;width:202.90px;height:14.00px;background:#edf1ee;"></div>
<div class="r" style="left:828.00px;top:655.50px;width:202.50px;height:14.00px;background:#fbf7ef;"></div>
<div class="r" style="left:797.31px;top:655.50px;width:28.69px;height:14.00px;background:#19653a;"></div>
<div class="t" style="left:568.00px;top:691.00px;font-size:18px;line-height:21.599999999999998px;color:#424744;letter-spacing:0.9px;">2014</div>
<div class="r" style="left:621.10px;top:693.67px;width:202.90px;height:14.00px;background:#edf1ee;"></div>
<div class="r" style="left:828.00px;top:693.67px;width:202.50px;height:14.00px;background:#fbf7ef;"></div>
<div class="r" style="left:756.40px;top:693.67px;width:69.60px;height:14.00px;background:#19653a;"></div>
<div class="t" style="left:568.00px;top:729.00px;font-size:18px;line-height:21.599999999999998px;color:#424744;letter-spacing:0.9px;">2013</div>
<div class="r" style="left:621.10px;top:731.84px;width:202.90px;height:14.00px;background:#edf1ee;"></div>
<div class="r" style="left:828.00px;top:731.84px;width:202.50px;height:14.00px;background:#fbf7ef;"></div>
<div class="r" style="left:813.68px;top:731.84px;width:12.32px;height:14.00px;background:#19653a;"></div>
<div class="t" style="left:568.00px;top:767.00px;font-size:18px;line-height:21.599999999999998px;color:#424744;letter-spacing:0.9px;">2012</div>
<div class="r" style="left:621.10px;top:770.01px;width:202.90px;height:14.00px;background:#edf1ee;"></div>
<div class="r" style="left:828.00px;top:770.01px;width:202.50px;height:14.00px;background:#fbf7ef;"></div>
<div class="r" style="left:740.04px;top:770.01px;width:85.96px;height:14.00px;background:#19653a;"></div>
<div class="t" style="left:568.00px;top:805.00px;font-size:18px;line-height:21.599999999999998px;color:#424744;letter-spacing:0.9px;">2011</div>
<div class="r" style="left:621.10px;top:808.18px;width:202.90px;height:14.00px;background:#edf1ee;"></div>
<div class="r" style="left:828.00px;top:808.18px;width:202.50px;height:14.00px;background:#fbf7ef;"></div>
<div class="r" style="left:826.00px;top:808.18px;width:151.32px;height:14.00px;background:#d5a11d;"></div>
<div class="t" style="left:568.00px;top:843.00px;font-size:18px;line-height:21.599999999999998px;color:#424744;letter-spacing:0.9px;">2010</div>
<div class="r" style="left:621.10px;top:846.35px;width:202.90px;height:14.00px;background:#edf1ee;"></div>
<div class="r" style="left:828.00px;top:846.35px;width:202.50px;height:14.00px;background:#fbf7ef;"></div>
<div class="r" style="left:826.00px;top:846.35px;width:73.59px;height:14.00px;background:#d5a11d;"></div>
<div class="t" style="left:568.00px;top:881.00px;font-size:18px;line-height:21.599999999999998px;color:#424744;letter-spacing:0.9px;">2009</div>
<div class="r" style="left:621.10px;top:884.52px;width:202.90px;height:14.00px;background:#edf1ee;"></div>
<div class="r" style="left:828.00px;top:884.52px;width:202.50px;height:14.00px;background:#fbf7ef;"></div>
<div class="r" style="left:748.22px;top:884.52px;width:77.78px;height:14.00px;background:#19653a;"></div>
<div class="t" style="left:568.00px;top:920.00px;font-size:18px;line-height:21.599999999999998px;color:#424744;letter-spacing:0.9px;">2008</div>
<div class="r" style="left:621.10px;top:922.69px;width:202.90px;height:14.00px;background:#edf1ee;"></div>
<div class="r" style="left:828.00px;top:922.69px;width:202.50px;height:14.00px;background:#fbf7ef;"></div>
<div class="r" style="left:764.59px;top:922.69px;width:61.41px;height:14.00px;background:#19653a;"></div>
<div class="t" style="left:568.00px;top:958.00px;font-size:18px;line-height:21.599999999999998px;color:#424744;letter-spacing:0.9px;">2007</div>
<div class="r" style="left:621.10px;top:960.86px;width:202.90px;height:14.00px;background:#edf1ee;"></div>
<div class="r" style="left:828.00px;top:960.86px;width:202.50px;height:14.00px;background:#fbf7ef;"></div>
<div class="r" style="left:826.00px;top:960.86px;width:89.95px;height:14.00px;background:#d5a11d;"></div>
<div class="t" style="left:568.00px;top:996.00px;font-size:18px;line-height:21.599999999999998px;color:#424744;letter-spacing:0.9px;">2006</div>
<div class="r" style="left:621.10px;top:999.03px;width:202.90px;height:14.00px;background:#edf1ee;"></div>
<div class="r" style="left:828.00px;top:999.03px;width:202.50px;height:14.00px;background:#fbf7ef;"></div>
<div class="r" style="left:756.40px;top:999.03px;width:69.60px;height:14.00px;background:#19653a;"></div>
<div class="t" style="left:568.00px;top:1034.00px;font-size:18px;line-height:21.599999999999998px;color:#424744;letter-spacing:0.9px;">2005</div>
<div class="r" style="left:621.10px;top:1037.20px;width:202.90px;height:14.00px;background:#edf1ee;"></div>
<div class="r" style="left:828.00px;top:1037.20px;width:202.50px;height:14.00px;background:#fbf7ef;"></div>
<div class="r" style="left:826.00px;top:1037.20px;width:204.50px;height:14.00px;background:#d5a11d;"></div>
<div class="t" style="left:568.00px;top:1072.00px;font-size:18px;line-height:21.599999999999998px;color:#424744;letter-spacing:0.9px;">2004</div>
<div class="r" style="left:621.10px;top:1075.37px;width:202.90px;height:14.00px;background:#edf1ee;"></div>
<div class="r" style="left:828.00px;top:1075.37px;width:202.50px;height:14.00px;background:#fbf7ef;"></div>
<div class="r" style="left:740.04px;top:1075.37px;width:85.96px;height:14.00px;background:#19653a;"></div>
<div class="t" style="left:568.00px;top:1110.00px;font-size:18px;line-height:21.599999999999998px;color:#424744;letter-spacing:0.9px;">2003</div>
<div class="r" style="left:621.10px;top:1113.54px;width:202.90px;height:14.00px;background:#edf1ee;"></div>
<div class="r" style="left:828.00px;top:1113.54px;width:202.50px;height:14.00px;background:#fbf7ef;"></div>
<div class="r" style="left:735.95px;top:1113.54px;width:90.05px;height:14.00px;background:#19653a;"></div>
<div class="t" style="left:568.00px;top:1149.00px;font-size:18px;line-height:21.599999999999998px;color:#424744;letter-spacing:0.9px;">2002</div>
<div class="r" style="left:621.10px;top:1151.71px;width:202.90px;height:14.00px;background:#edf1ee;"></div>
<div class="r" style="left:828.00px;top:1151.71px;width:202.50px;height:14.00px;background:#fbf7ef;"></div>
<div class="r" style="left:740.04px;top:1151.71px;width:85.96px;height:14.00px;background:#19653a;"></div>
<div class="t" style="left:568.00px;top:1187.00px;font-size:18px;line-height:21.599999999999998px;color:#424744;letter-spacing:0.9px;">2001</div>
<div class="r" style="left:621.10px;top:1189.88px;width:202.90px;height:14.00px;background:#edf1ee;"></div>
<div class="r" style="left:828.00px;top:1189.88px;width:202.50px;height:14.00px;background:#fbf7ef;"></div>
<div class="r" style="left:826.00px;top:1189.88px;width:192.23px;height:14.00px;background:#d5a11d;"></div>
<div class="t" style="left:568.00px;top:1225.00px;font-size:18px;line-height:21.599999999999998px;color:#424744;letter-spacing:0.9px;">2000</div>
<div class="r" style="left:621.10px;top:1228.05px;width:202.90px;height:14.00px;background:#edf1ee;"></div>
<div class="r" style="left:828.00px;top:1228.05px;width:202.50px;height:14.00px;background:#fbf7ef;"></div>
<div class="r" style="left:727.77px;top:1228.05px;width:98.23px;height:14.00px;background:#19653a;"></div>
<div class="t" style="left:567.50px;top:1303.00px;font-size:24px;line-height:28.799999999999997px;font-weight:700;color:#101311;letter-spacing:0.22px;">Directors with the most award success</div>
<div class="t" style="left:568.00px;top:1355.00px;font-size:17px;line-height:20.4px;font-weight:700;color:#101311;letter-spacing:0.1px;"><span class="rk" style="width:21.5px">#1</span>Martin Scorsese</div>
<div class="t" style="left:568.00px;top:1377.00px;font-size:13.4px;line-height:19.3px;color:#474d4a;letter-spacing:0.12px;">Top film: The Aviator (2004)</div>
<div class="r" style="left:834.90px;top:1355.65px;width:195.50px;height:14.00px;background:#edf1ee;"></div>
<div class="r" style="left:834.90px;top:1355.65px;width:195.50px;height:14.00px;background:#d5a11d;"></div>
<div class="t" style="left:834.90px;top:1376.00px;font-size:13.4px;line-height:16.08px;color:#2c302e;letter-spacing:0.1px;">7 films</div>
<div class="t" style="right:48.75px;text-align:right;top:1376.00px;font-size:13.4px;line-height:16.08px;font-weight:700;color:#101311;letter-spacing:0.25px;width:300px;">4,527 pts</div>
<div class="r" style="left:568.00px;top:1407.00px;width:462.00px;height:1.00px;background:#f9f9f9;"></div>
<div class="r" style="left:568.00px;top:1408.00px;width:462.00px;height:1.00px;background:#f2f2f0;"></div>
<div class="t" style="left:568.00px;top:1419.00px;font-size:17px;line-height:20.4px;font-weight:700;color:#101311;letter-spacing:0.1px;"><span class="rk" style="width:23.5px">#2</span>Paul Thomas Anderson</div>
<div class="t" style="left:568.00px;top:1441.00px;font-size:13.4px;line-height:19.3px;color:#474d4a;letter-spacing:0.12px;">Top film: One Battle After Another (2025)</div>
<div class="r" style="left:834.90px;top:1419.20px;width:195.50px;height:14.00px;background:#edf1ee;"></div>
<div class="r" style="left:834.90px;top:1419.20px;width:170.09px;height:14.00px;background:#d5a11d;"></div>
<div class="t" style="left:834.90px;top:1439.00px;font-size:13.4px;line-height:16.08px;color:#2c302e;letter-spacing:0.1px;">8 films</div>
<div class="t" style="right:48.75px;text-align:right;top:1439.00px;font-size:13.4px;line-height:16.08px;font-weight:700;color:#101311;letter-spacing:0.25px;width:300px;">3,921 pts</div>
<div class="r" style="left:568.00px;top:1471.00px;width:462.00px;height:1.00px;background:#f1f1ef;"></div>
<div class="r" style="left:568.00px;top:1472.00px;width:462.00px;height:1.00px;background:#fafafa;"></div>
<div class="t" style="left:568.00px;top:1482.00px;font-size:17px;line-height:20.4px;font-weight:700;color:#101311;letter-spacing:0.1px;"><span class="rk" style="width:23.5px">#3</span>Steven Spielberg</div>
<div class="t" style="left:568.00px;top:1504.00px;font-size:13.4px;line-height:19.3px;color:#474d4a;letter-spacing:0.12px;">Top film: Lincoln (2012)</div>
<div class="r" style="left:834.90px;top:1482.75px;width:195.50px;height:14.00px;background:#edf1ee;"></div>
<div class="r" style="left:834.90px;top:1482.75px;width:152.49px;height:14.00px;background:#d5a11d;"></div>
<div class="t" style="left:834.90px;top:1503.00px;font-size:13.4px;line-height:16.08px;color:#2c302e;letter-spacing:0.1px;">10 films</div>
<div class="t" style="right:48.75px;text-align:right;top:1503.00px;font-size:13.4px;line-height:16.08px;font-weight:700;color:#101311;letter-spacing:0.25px;width:300px;">3,542 pts</div>
<div class="r" style="left:568.00px;top:1534.00px;width:462.00px;height:1.00px;background:#fbfbfb;"></div>
<div class="r" style="left:568.00px;top:1535.00px;width:462.00px;height:1.00px;background:#f0f0ee;"></div>
<div class="t" style="left:568.00px;top:1546.00px;font-size:17px;line-height:20.4px;font-weight:700;color:#101311;letter-spacing:0.1px;"><span class="rk" style="width:23.5px">#4</span>Alexander Payne</div>
<div class="t" style="left:568.00px;top:1568.00px;font-size:13.4px;line-height:19.3px;color:#474d4a;letter-spacing:0.12px;">Top film: Sideways (2004)</div>
<div class="r" style="left:834.90px;top:1546.30px;width:195.50px;height:14.00px;background:#edf1ee;"></div>
<div class="r" style="left:834.90px;top:1546.30px;width:150.53px;height:14.00px;background:#d5a11d;"></div>
<div class="t" style="left:834.90px;top:1566.00px;font-size:13.4px;line-height:16.08px;color:#2c302e;letter-spacing:0.1px;">6 films</div>
<div class="t" style="right:48.75px;text-align:right;top:1566.00px;font-size:13.4px;line-height:16.08px;font-weight:700;color:#101311;letter-spacing:0.25px;width:300px;">3,464 pts</div>
<div class="r" style="left:568.00px;top:1598.00px;width:462.00px;height:1.00px;background:#f3f3f1;"></div>
<div class="r" style="left:568.00px;top:1599.00px;width:462.00px;height:1.00px;background:#f8f8f8;"></div>
<div class="t" style="left:568.00px;top:1609.00px;font-size:17px;line-height:20.4px;font-weight:700;color:#101311;letter-spacing:0.1px;"><span class="rk" style="width:23.5px">#5</span>Alejandro González Iñárritu</div>
<div class="t" style="left:568.00px;top:1631.00px;font-size:13.4px;line-height:19.3px;color:#474d4a;letter-spacing:0.12px;">Top film: Birdman or (The Unexpected<br>Virtue of Ignorance) (2014)</div>
<div class="r" style="left:834.90px;top:1619.00px;width:195.50px;height:14.00px;background:#edf1ee;"></div>
<div class="r" style="left:834.90px;top:1619.00px;width:146.62px;height:14.00px;background:#d5a11d;"></div>
<div class="t" style="left:834.90px;top:1639.00px;font-size:13.4px;line-height:16.08px;color:#2c302e;letter-spacing:0.1px;">7 films</div>
<div class="t" style="right:48.75px;text-align:right;top:1639.00px;font-size:13.4px;line-height:16.08px;font-weight:700;color:#101311;letter-spacing:0.25px;width:300px;">3,417 pts</div>
<div class="r" style="left:568.00px;top:1681.00px;width:462.00px;height:1.00px;background:#f0f0ee;"></div>
<div class="r" style="left:568.00px;top:1682.00px;width:462.00px;height:1.00px;background:#fbfbfb;"></div>
<div class="t" style="left:568.00px;top:1692.00px;font-size:17px;line-height:20.4px;font-weight:700;color:#101311;letter-spacing:0.1px;"><span class="rk" style="width:23.5px">#6</span>Clint Eastwood</div>
<div class="t" style="left:568.00px;top:1714.00px;font-size:13.4px;line-height:19.3px;color:#474d4a;letter-spacing:0.12px;">Top film: Million Dollar Baby (2004)</div>
<div class="r" style="left:834.90px;top:1692.70px;width:195.50px;height:14.00px;background:#edf1ee;"></div>
<div class="r" style="left:834.90px;top:1692.70px;width:129.03px;height:14.00px;background:#d5a11d;"></div>
<div class="t" style="left:834.90px;top:1713.00px;font-size:13.4px;line-height:16.08px;color:#2c302e;letter-spacing:0.1px;">11 films</div>
<div class="t" style="right:48.75px;text-align:right;top:1713.00px;font-size:13.4px;line-height:16.08px;font-weight:700;color:#101311;letter-spacing:0.25px;width:300px;">3,001 pts</div>
<div class="r" style="left:568.00px;top:1744.00px;width:462.00px;height:1.00px;background:#fafafa;"></div>
<div class="r" style="left:568.00px;top:1745.00px;width:462.00px;height:1.00px;background:#f1f1ef;"></div>
<div class="t" style="left:568.00px;top:1756.00px;font-size:17px;line-height:20.4px;font-weight:700;color:#101311;letter-spacing:0.1px;"><span class="rk" style="width:23.5px">#7</span>Yorgos Lanthimos</div>
<div class="t" style="left:568.00px;top:1778.00px;font-size:13.4px;line-height:19.3px;color:#474d4a;letter-spacing:0.12px;">Top film: The Favourite (2018)</div>
<div class="r" style="left:834.90px;top:1756.25px;width:195.50px;height:14.00px;background:#edf1ee;"></div>
<div class="r" style="left:834.90px;top:1756.25px;width:127.08px;height:14.00px;background:#d5a11d;"></div>
<div class="t" style="left:834.90px;top:1776.00px;font-size:13.4px;line-height:16.08px;color:#2c302e;letter-spacing:0.1px;">8 films</div>
<div class="t" style="right:48.75px;text-align:right;top:1776.00px;font-size:13.4px;line-height:16.08px;font-weight:700;color:#101311;letter-spacing:0.25px;width:300px;">2,939 pts</div>
<div class="r" style="left:568.00px;top:1808.00px;width:462.00px;height:1.00px;background:#f2f2f0;"></div>
<div class="r" style="left:568.00px;top:1809.00px;width:462.00px;height:1.00px;background:#f9f9f9;"></div>
<div class="t" style="left:568.00px;top:1819.00px;font-size:17px;line-height:20.4px;font-weight:700;color:#101311;letter-spacing:0.1px;"><span class="rk" style="width:23.5px">#8</span>Joel Coen</div>
<div class="t" style="left:568.00px;top:1841.00px;font-size:13.4px;line-height:19.3px;color:#474d4a;letter-spacing:0.12px;">Top film: No Country for Old Men (2007)</div>
<div class="r" style="left:834.90px;top:1819.80px;width:195.50px;height:14.00px;background:#edf1ee;"></div>
<div class="r" style="left:834.90px;top:1819.80px;width:123.17px;height:14.00px;background:#d5a11d;"></div>
<div class="t" style="left:834.90px;top:1840.00px;font-size:13.4px;line-height:16.08px;color:#2c302e;letter-spacing:0.1px;">10 films</div>
<div class="t" style="right:48.75px;text-align:right;top:1840.00px;font-size:13.4px;line-height:16.08px;font-weight:700;color:#101311;letter-spacing:0.25px;width:300px;">2,836 pts</div>
<div class="r" style="left:568.00px;top:1871.00px;width:462.00px;height:1.00px;background:#fcfcfc;"></div>
<div class="r" style="left:568.00px;top:1872.00px;width:462.00px;height:1.00px;background:#efefed;"></div>
<div class="t" style="left:568.00px;top:1883.00px;font-size:17px;line-height:20.4px;font-weight:700;color:#101311;letter-spacing:0.1px;"><span class="rk" style="width:23.5px">#9</span>Ang Lee</div>
<div class="t" style="left:568.00px;top:1905.00px;font-size:13.4px;line-height:19.3px;color:#474d4a;letter-spacing:0.12px;">Top film: Brokeback Mountain (2005)</div>
<div class="r" style="left:834.90px;top:1883.35px;width:195.50px;height:14.00px;background:#edf1ee;"></div>
<div class="r" style="left:834.90px;top:1883.35px;width:121.21px;height:14.00px;background:#d5a11d;"></div>
<div class="t" style="left:834.90px;top:1903.00px;font-size:13.4px;line-height:16.08px;color:#2c302e;letter-spacing:0.1px;">5 films</div>
<div class="t" style="right:48.75px;text-align:right;top:1903.00px;font-size:13.4px;line-height:16.08px;font-weight:700;color:#101311;letter-spacing:0.25px;width:300px;">2,787 pts</div>
<div class="r" style="left:568.00px;top:1935.00px;width:462.00px;height:1.00px;background:#f4f4f2;"></div>
<div class="r" style="left:568.00px;top:1936.00px;width:462.00px;height:1.00px;background:#f7f7f7;"></div>
<div class="t" style="left:568.00px;top:1946.00px;font-size:17px;line-height:20.4px;font-weight:700;color:#101311;letter-spacing:0.1px;"><span class="rk" style="width:29.5px">#10</span>Martin McDonagh</div>
<div class="t" style="left:568.00px;top:1968.00px;font-size:13.4px;line-height:19.3px;color:#474d4a;letter-spacing:0.12px;">Top film: Three Billboards Outside Ebbing,<br>Missouri (2017)</div>
<div class="r" style="left:834.90px;top:1956.05px;width:195.50px;height:14.00px;background:#edf1ee;"></div>
<div class="r" style="left:834.90px;top:1956.05px;width:119.25px;height:14.00px;background:#d5a11d;"></div>
<div class="t" style="left:834.90px;top:1976.00px;font-size:13.4px;line-height:16.08px;color:#2c302e;letter-spacing:0.1px;">4 films</div>
<div class="t" style="right:48.75px;text-align:right;top:1976.00px;font-size:13.4px;line-height:16.08px;font-weight:700;color:#101311;letter-spacing:0.25px;width:300px;">2,756 pts</div>
<div class="t" style="left:32.00px;top:2097.00px;font-size:8.7px;line-height:10.44px;font-weight:700;color:#636865;letter-spacing:1.0px;">METHODOLOGY</div>
<div class="t" style="left:32.00px;top:2115.00px;font-size:13.4px;line-height:19.0px;color:#474d4a;">Scores are calculated by aggregating placements in Berlin, Cannes, Oscars, Venice,<br>BAFTA, DGA Awards, Golden Globes, PGA Awards, SAG Awards, WGA Awards,<br>Critics' Choice Awards, Sundance, and TIFF. No maximum score, higher is always<br>better. Data covers 2000-2026.</div>
<div class="t" style="left:776.00px;top:2108.00px;font-size:35px;line-height:42.0px;font-weight:700;color:#101311;letter-spacing:-0.05px;">laurelboard.com</div>
<svg class="ic" style="left:740px;top:2110px" width="34" height="36" viewBox="0 -0.3 34 36" fill="none" stroke="#0c0e0d" stroke-width="1.7" stroke-linecap="round" stroke-linejoin="round">
<circle cx="15.9" cy="15.9" r="10.2"/>
<path d="M15.9 5.7 C19.5 5.7 22.5 7.2 24.5 8 C26.5 8.6 28.3 8.3 29.3 6.3"/>
<circle cx="15.9" cy="10.8" r="1.9"/><circle cx="15.9" cy="21.2" r="1.9"/>
<circle cx="10.7" cy="16" r="1.9"/><circle cx="21.1" cy="16" r="1.9"/>
<circle cx="15.9" cy="16" r="0.5" fill="#0c0e0d"/>
<path d="M11.2 26 L10.5 31.6 M20.6 26 L21.4 31.6"/>
<path d="M9.6 32 H22.4" stroke-width="2.1"/>
</svg>
</div>
</body></html>
